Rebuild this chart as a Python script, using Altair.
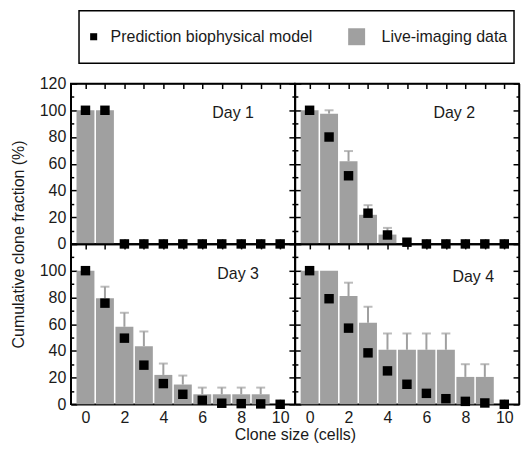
import altair as alt
import pandas as pd

# ---------------- data ----------------
sizes = [0, 1, 2, 3, 4, 5, 6, 7, 8, 9, 10]
day_names = ["Day 1", "Day 2", "Day 3", "Day 4"]
legend_labels = ["Prediction biophysical model", "Live-imaging data"]

# Live-imaging data (bars, %)
bars_d1 = [100, 100, 0, 0, 0, 0, 0, 0, 0, 0, 0]
bars_d2 = [100, 97.5, 61.8, 21.8, 7, 0, 0, 0, 0, 0, 0]
bars_d3 = [100, 79.3, 58, 43.5, 22, 14.8, 7.5, 7.5, 7.5, 7.5, 0]
bars_d4 = [100, 100, 81, 61, 40.8, 40.8, 40.8, 40.8, 20.5, 20.5, 0]

# upper end of error bars
err_d1 = [None, None, None, None, None, None, None, None, None, None, None]
err_d2 = [None, 100, 69.5, 29, 12, None, None, None, None, None, None]
err_d3 = [None, 88, 68.5, 54.5, 30.5, 21.5, 12.5, 12.5, 12.5, 12.5, None]
err_d4 = [None, None, 91, 73, 53, 53, 53, 53, 30, 30, None]

# Prediction biophysical model (squares, %)
pred_d1 = [100, 100, 0, 0, 0, 0, 0, 0, 0, 0, 0]
pred_d2 = [100, 80, 51, 23, 6.7, 1.3, 0, 0, 0, 0, 0]
pred_d3 = [100, 75.7, 49.5, 29.3, 15.5, 7.5, 3, 0.8, 0.5, 0.3, 0]
pred_d4 = [100, 79, 57, 38.5, 25, 15, 8.2, 4.2, 2.2, 1, 0]

x_ticks = [0, 1, 2, 3, 4, 5, 6, 7, 8, 9, 10]
y_ticks = [0, 10, 20, 30, 40, 50, 60, 70, 80, 90, 100, 110, 120]

bars_all = [bars_d1, bars_d2, bars_d3, bars_d4]
err_all = [err_d1, err_d2, err_d3, err_d4]
pred_all = [pred_d1, pred_d2, pred_d3, pred_d4]

# ---------------- style ----------------
FONT = "Liberation Sans"
GRAY = "#a0a0a0"
INK = "#1a1a1a"
PW, PH = 225, 161

x_scale = alt.Scale(domain=[-0.5, 10.5], nice=False, zero=False)
y_scale = alt.Scale(domain=[0, 120], nice=False)

Y_TICK = alt.ExprRef(expr="datum.value % 20 === 0 ? -6 : -3")
X_TICK = alt.ExprRef(expr="-5")

common = dict(grid=False, domainColor="black", domainWidth=1.5,
              tickColor="black", tickWidth=1.5, labelFont=FONT,
              labelFontSize=16, labelColor=INK, labelOverlap=False,
              labelFlush=False, titleFont=FONT, titleFontSize=16,
              titleFontWeight="normal", titleColor=INK)


def x_axis_bottom(labels, title):
    kw = dict(common)
    kw.update(orient="bottom", values=x_ticks, tickSize=X_TICK, labelPadding=10)
    if labels:
        kw.update(labelExpr="datum.value % 2 === 0 ? datum.label : ''")
    else:
        kw.update(labels=False)
    if title:
        kw.update(title=title, titleX=PW, titleY=30, titleAlign="center",
                  titleBaseline="middle", titleAngle=0)
    else:
        kw.update(title=None)
    return alt.Axis(**kw)


def y_axis_left(labels, top_label, title):
    kw = dict(common)
    kw.update(orient="left", values=y_ticks, tickSize=Y_TICK, labelPadding=11)
    if labels:
        if top_label:
            kw.update(labelExpr="datum.value % 20 === 0 ? datum.label : ''")
        else:
            kw.update(labelExpr="datum.value % 20 === 0 && datum.value < 120 ? datum.label : ''")
    else:
        kw.update(labels=False)
    if title:
        kw.update(title=title, titleX=-52, titleY=PH, titleAngle=270,
                  titleAlign="center", titleBaseline="middle")
    else:
        kw.update(title=None)
    return alt.Axis(**kw)


x_axis_top = alt.Axis(orient="top", values=x_ticks, tickSize=X_TICK, labels=False,
                      title=None, **common)
y_axis_right = alt.Axis(orient="right", values=y_ticks, tickSize=Y_TICK, labels=False,
                        title=None, **common)

label_pos = [(163, 30), (160, 30), (168, 30), (179, 33)]

# legend (drawn above the first panel, in pixel offsets from its top-left corner)
leg_df = pd.DataFrame({"label": legend_labels})
leg_box = alt.Chart(leg_df.head(1)).mark_rect(fill="white", stroke="black", strokeWidth=1.5).encode(
    x=alt.value(8.3), x2=alt.value(445), y=alt.value(-73), y2=alt.value(-20.5))
leg_sq1 = alt.Chart(leg_df.head(1)).mark_square(size=50, color="black", opacity=1).encode(
    x=alt.value(23), y=alt.value(-47))
leg_t1 = alt.Chart(leg_df.head(1)).mark_text(font=FONT, fontSize=16, color=INK, align="left",
                                             baseline="middle").encode(
    x=alt.value(40), y=alt.value(-47), text="label:N")
leg_sq2 = alt.Chart(leg_df.tail(1)).mark_square(size=290, color=GRAY, opacity=1).encode(
    x=alt.value(287), y=alt.value(-47))
leg_t2 = alt.Chart(leg_df.tail(1)).mark_text(font=FONT, fontSize=16, color=INK, align="left",
                                             baseline="middle").encode(
    x=alt.value(312), y=alt.value(-47), text="label:N")
legend_layers = [leg_box, leg_sq1, leg_t1, leg_sq2, leg_t2]


def panel(i):
    row, col = divmod(i, 2)
    df = pd.DataFrame({"size": sizes, "bar": bars_all[i], "err": err_all[i],
                       "pred": pred_all[i]})
    base = alt.Chart(df)
    bars = base.mark_bar(size=18, color=GRAY).encode(
        x=alt.X("size:Q", scale=x_scale,
                axis=x_axis_bottom(row == 1, "Clone size (cells)" if (row == 1 and col == 0) else None)),
        y=alt.Y("bar:Q", scale=y_scale,
                axis=y_axis_left(col == 0, row == 0,
                                 "Cumulative clone fraction (%)" if (row == 0 and col == 0) else None)),
    )
    err = base.transform_filter("isValid(datum.err)").mark_rule(color=GRAY, strokeWidth=2).encode(
        x=alt.X("size:Q", axis=None), y=alt.Y("bar:Q", axis=None), y2="err:Q")
    cap = base.transform_filter("isValid(datum.err)").mark_tick(
        color=GRAY, orient="horizontal", size=9, thickness=2).encode(
        x=alt.X("size:Q", axis=None), y=alt.Y("err:Q", axis=None))
    pts = base.mark_square(size=90, color="black", opacity=1).encode(
        x=alt.X("size:Q", axis=None), y=alt.Y("pred:Q", axis=None))
    frame = base.mark_point(opacity=0).encode(
        x=alt.X("size:Q", axis=x_axis_top), y=alt.Y("pred:Q", axis=y_axis_right))
    lx, ly = label_pos[i]
    txt = alt.Chart(pd.DataFrame({"day": [day_names[i]]})).mark_text(
        font=FONT, fontSize=16, color=INK, align="center", baseline="middle").encode(
        x=alt.value(lx), y=alt.value(ly), text="day:N")
    layers = [bars, err, cap, pts, frame, txt]
    if i == 0:
        layers += legend_layers
    return alt.layer(*layers).resolve_axis(
        x="independent", y="independent").properties(width=PW, height=PH)


chart = alt.concat(*[panel(i) for i in range(4)], columns=2, spacing=0, bounds="flush").properties(
    padding={"left": 2, "top": 0, "right": 0, "bottom": 0}
).configure_view(stroke="black", strokeWidth=1.5)

chart.save("out.html", embed_options={"renderer": "svg", "actions": False})
